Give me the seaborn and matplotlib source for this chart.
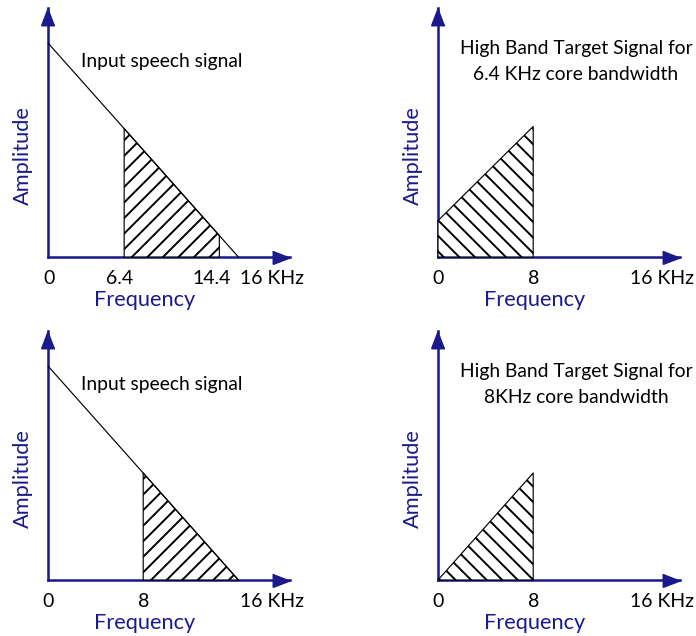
import matplotlib
matplotlib.use("Agg")
import matplotlib.pyplot as plt
import matplotlib.transforms as mtransforms
import seaborn as sns
import pandas as pd

# ---------------- data (frequency in kHz, amplitude normalised) ----------------
speech_freq = [0, 16]
speech_amp = [1.0, 0.0]

band_a_freq = [6.4, 14.4]      # hatched band, top-left panel
band_a_amp = [0.60, 0.10]
target_a_freq = [0, 8]         # high-band target for 6.4 kHz core
target_a_amp = [0.17, 0.61]

band_b_freq = [8, 16]          # hatched band, bottom-left panel
band_b_amp = [0.50, 0.0]
target_b_freq = [0, 8]         # high-band target for 8 kHz core
target_b_amp = [0.0, 0.50]

ticks_a_left = [0, 6.4, 14.4, 16]
labels_a_left = ["0", "6.4", "14.4", "16 KHz"]
ticks_right = [0, 8, 16]
labels_right = ["0", "8", "16 KHz"]
ticks_b_left = [0, 8, 16]
labels_b_left = ["0", "8", "16 KHz"]

speech_text = "Input speech signal"
target_a_text = ["High Band Target Signal for", "6.4 KHz core bandwidth"]
target_b_text = ["High Band Target Signal for", "8KHz core bandwidth"]

# ---------------- style ----------------
sns.set_theme(style="white")
plt.rcParams["font.family"] = ["Lato", "DejaVu Sans"]
plt.rcParams["hatch.linewidth"] = 1.0

NAVY = "#1a1a8a"
DPI = 140
W, H = 696, 636
fig = plt.figure(figsize=(W / DPI, H / DPI), dpi=DPI)

AX_W, AX_H = 242, 249
XMAX, YMAX = 242 / 11.9, 1.1636
LABEL_FS = 11.2
TICK_FS = 10
NOTE_FS = 9.9


def make_ax(ox, oy):
    ax = fig.add_axes([ox / W, (H - oy) / H, AX_W / W, AX_H / H])
    ax.set_xlim(0, XMAX)
    ax.set_ylim(0, YMAX)
    for s in ["top", "right"]:
        ax.spines[s].set_visible(False)
    for s in ["left", "bottom"]:
        ax.spines[s].set_color(NAVY)
        ax.spines[s].set_linewidth(1.3)
        ax.spines[s].set_zorder(1)
    px = 72 / DPI
    head_r = [(0, 0), (-17, -6.5), (-17, 6.5)]
    head_u = [(0, 0), (-6.5, -17), (6.5, -17)]
    ax.plot([1], [0], marker=head_r, markersize=34 * px, color=NAVY,
            transform=ax.transAxes, clip_on=False, lw=0)
    ax.plot([0], [1], marker=head_u, markersize=34 * px, color=NAVY,
            transform=ax.transAxes, clip_on=False, lw=0)
    ax.set_yticks([])
    return ax


def set_ticks(ax, ticks, labels, shifts=None):
    ax.set_xticks(ticks, labels)
    ax.tick_params(axis="x", length=0, pad=6.5, labelsize=TICK_FS,
                   labelcolor="black")
    labs = ax.get_xticklabels()
    labs[-1].set_ha("left")
    if shifts is None:
        shifts = [0] * (len(labs) - 1) + [2]
    for lab, dx in zip(labs, shifts):
        off = mtransforms.ScaledTranslation(dx / DPI, 0, fig.dpi_scale_trans)
        lab.set_transform(lab.get_transform() + off)


def hatched(ax, fx, fy, hatch):
    df = pd.DataFrame({"f": fx, "a": fy})
    ax.fill_between(df["f"], df["a"], 0, facecolor="white", edgecolor="black",
                    hatch=hatch, lw=0.6, zorder=2, clip_on=False)


def speech(ax):
    df = pd.DataFrame({"f": speech_freq, "a": speech_amp})
    sns.lineplot(data=df, x="f", y="a", ax=ax, color="black", lw=0.6,
                 zorder=3, clip_on=False)


def finish(ax):
    ax.set_xlabel("Frequency", color=NAVY, fontsize=LABEL_FS, visible=True)
    ax.set_ylabel("Amplitude", color=NAVY, fontsize=LABEL_FS, visible=True)
    ax.xaxis.label.set_visible(True)
    ax.yaxis.label.set_visible(True)
    ax.xaxis.set_label_coords(0.40, -0.134)
    ax.yaxis.set_label_coords(-0.064, 0.406)


# top-left
ax1 = make_ax(48, 257)
hatched(ax1, band_a_freq, band_a_amp, "///")
speech(ax1)
set_ticks(ax1, ticks_a_left, labels_a_left, shifts=[1, -5, -8, 2])
ax1.text(9.58, 0.888, speech_text, ha="center", va="baseline",
         fontsize=NOTE_FS, color="black")
finish(ax1)

# top-right
ax2 = make_ax(438, 257)
hatched(ax2, target_a_freq, target_a_amp, "\\\\\\")
set_ticks(ax2, ticks_right, labels_right)
ax2.text(11.6, 0.949, target_a_text[0], ha="center", va="baseline",
         fontsize=NOTE_FS, color="black")
ax2.text(11.6, 0.827, target_a_text[1], ha="center", va="baseline",
         fontsize=NOTE_FS, color="black")
finish(ax2)

# bottom-left
ax3 = make_ax(48, 580)
hatched(ax3, band_b_freq, band_b_amp, "///")
speech(ax3)
set_ticks(ax3, ticks_b_left, labels_b_left)
ax3.text(9.58, 0.888, speech_text, ha="center", va="baseline",
         fontsize=NOTE_FS, color="black")
finish(ax3)

# bottom-right
ax4 = make_ax(438, 580)
hatched(ax4, target_b_freq, target_b_amp, "\\\\\\")
set_ticks(ax4, ticks_right, labels_right)
ax4.text(11.6, 0.949, target_b_text[0], ha="center", va="baseline",
         fontsize=NOTE_FS, color="black")
ax4.text(11.6, 0.827, target_b_text[1], ha="center", va="baseline",
         fontsize=NOTE_FS, color="black")
finish(ax4)

fig.savefig("out.png", dpi=DPI, facecolor="white")
